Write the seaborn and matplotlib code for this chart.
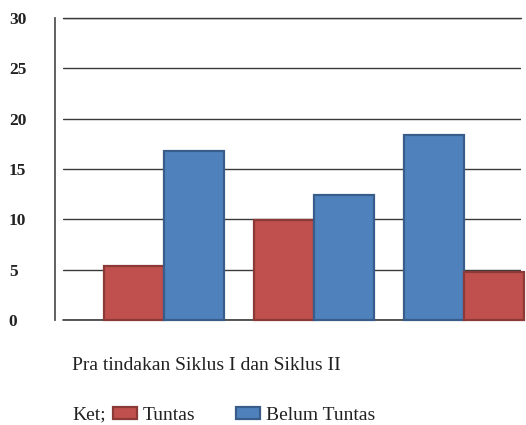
import matplotlib
matplotlib.use("Agg")
import matplotlib.pyplot as plt
from matplotlib.patches import Patch
import pandas as pd
import seaborn as sns

# Data
kelompok = ["Pra tindakan", "Siklus I", "Siklus II"]
tuntas = [5.4, 9.9, 4.8]
belum_tuntas = [16.8, 12.4, 18.4]
# order of the two bars inside each group (the last group is swapped)
urutan = [
    ["Tuntas", "Belum Tuntas"],
    ["Tuntas", "Belum Tuntas"],
    ["Belum Tuntas", "Tuntas"],
]
y_ticks = [0, 5, 10, 15, 20, 25, 30]

warna = {"Tuntas": "#C0504D", "Belum Tuntas": "#4F81BD"}
tepi = {"Tuntas": "#8C3A38", "Belum Tuntas": "#385D8A"}

nilai = {"Tuntas": tuntas, "Belum Tuntas": belum_tuntas}
rows = []
for i, k in enumerate(kelompok):
    for j, status in enumerate(urutan[i]):
        rows.append({"kelompok": k, "posisi": j, "status": status, "nilai": nilai[status][i]})
df = pd.DataFrame(rows)

sns.set_style("white")
plt.rcParams["font.family"] = ["Liberation Serif", "DejaVu Serif"]

fig = plt.figure(figsize=(5.26, 4.25), dpi=100)
ax = fig.add_axes([63 / 526, 1 - 320 / 425, (521 - 63) / 526, (320 - 18) / 425])

sns.barplot(
    data=df, x="kelompok", y="nilai", hue="posisi", hue_order=[0, 1],
    order=kelompok, width=0.8, errorbar=None, legend=False, ax=ax,
)

for j, cont in enumerate(ax.containers):
    for i, bar in enumerate(cont):
        status = urutan[i][j]
        bar.set_facecolor(warna[status])
        bar.set_edgecolor(tepi[status])
        bar.set_linewidth(1.6)
        bar.set_clip_on(False)

ax.set_ylim(0, 30)
ax.set_xlim(-0.673, 2.38)
ax.set_yticks(y_ticks)
ax.set_xticks([])
ax.set_xlabel("")
ax.set_ylabel("")
ax.set_axisbelow(True)
ax.yaxis.grid(True, color="#3a3a3a", linewidth=1.0)
# full-strength baseline and top line (grid lines at the limits get clipped)
ax.axhline(0, color="#3a3a3a", linewidth=1.2, clip_on=False, zorder=0.6)
ax.axhline(30, color="#3a3a3a", linewidth=1.0, clip_on=False, zorder=0.6)

for s in ["top", "right", "bottom"]:
    ax.spines[s].set_visible(False)
ax.spines["left"].set_position(("outward", 6))
ax.spines["left"].set_color("#555555")
ax.spines["left"].set_linewidth(1.3)

ax.tick_params(axis="y", length=0, pad=33, labelsize=12.5)
for lab in ax.get_yticklabels():
    lab.set_horizontalalignment("left")
    lab.set_fontweight("bold")
    lab.set_color("#222222")

fig.text(72 / 526, 1 - 366 / 425, "Pra tindakan Siklus I dan Siklus II",
         fontsize=14, va="center", ha="left", color="#222222")
fig.text(72 / 526, 1 - 415 / 425, "Ket;", fontsize=14, va="center", ha="left",
         color="#222222")

handles = [
    Patch(facecolor=warna[s], edgecolor=tepi[s], linewidth=1.6, label=s)
    for s in ["Tuntas", "Belum Tuntas"]
]
fig.legend(
    handles=handles, loc="center left", bbox_to_anchor=(113 / 526, 1 - 415 / 425),
    ncol=2, frameon=False, fontsize=14, borderpad=0, borderaxespad=0,
    handlelength=1.23, handleheight=0.57, handletextpad=0.31, columnspacing=2.06,
    labelcolor="#222222",
)

fig.savefig("out.png", dpi=100)
